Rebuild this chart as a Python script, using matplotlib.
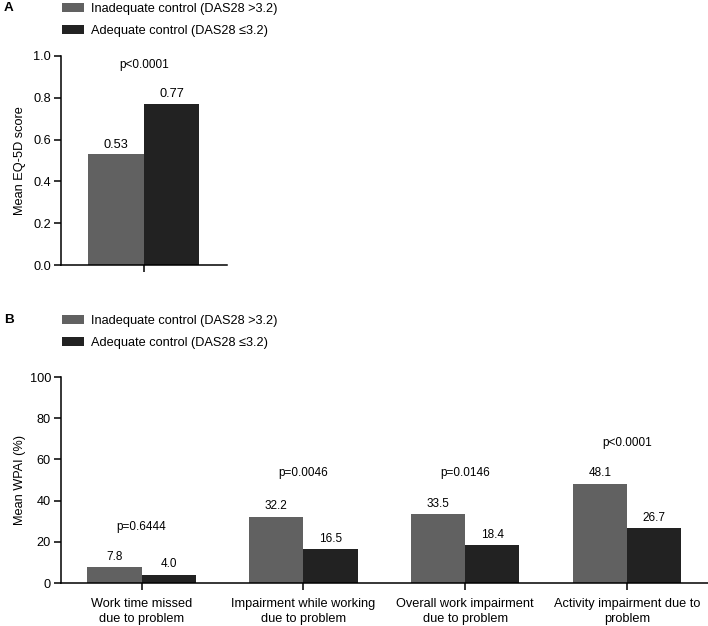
import numpy as np
import matplotlib.pyplot as plt

plt.rcParams['font.family'] = ['Liberation Sans', 'DejaVu Sans']

W, H = 708, 626

series_names = ['Inadequate control (DAS28 >3.2)', 'Adequate control (DAS28 \u22643.2)']
colors = ['#616161', '#222222']

# panel A
eq5d = [0.53, 0.77]
eq5d_p = 'p<0.0001'

# panel B
categories = ['Work time missed\ndue to problem', 'Impairment while working\ndue to problem',
              'Overall work impairment\ndue to problem', 'Activity impairment due to\nproblem']
inadequate = [7.8, 32.2, 33.5, 48.1]
adequate = [4.0, 16.5, 18.4, 26.7]
p_values = ['p=0.6444', 'p=0.0046', 'p=0.0146', 'p<0.0001']
p_heights = [27, 53.5, 53.5, 68]

FS = 9.2
VS = 8.5


def px_box(x0, y0, x1, y1):
    # pixel box (top-left origin) to figure fraction
    return [x0 / W, 1 - y1 / H, (x1 - x0) / W, (y1 - y0) / H]


def style_axes(ax):
    for s in ['top', 'right']:
        ax.spines[s].set_visible(False)
    for s in ['left', 'bottom']:
        ax.spines[s].set_linewidth(1.1)
    ax.tick_params(axis='y', direction='out', length=5, width=1.1, labelsize=FS, pad=2)
    ax.tick_params(axis='x', direction='out', length=5, width=1.1, labelsize=FS, pad=6)


def add_legend(ax, top_px):
    ax.legend(loc='upper left', bbox_to_anchor=(62 / W, 1 - top_px / H), bbox_transform=fig.transFigure,
              frameon=False, fontsize=FS, borderpad=0, borderaxespad=0, handlelength=1.7,
              handleheight=0.75, handletextpad=0.55, labelspacing=0.78)


fig = plt.figure(figsize=(W / 100, H / 100), dpi=100)

# ---- Panel A ----
axA = fig.add_axes(px_box(60.7, 56, 227, 265))
style_axes(axA)
for i, v in enumerate(eq5d):
    axA.bar(-0.25 + 0.5 * i, v, width=0.5, color=colors[i], label=series_names[i])
    axA.annotate(f'{v:.2f}', (-0.25 + 0.5 * i, v), xytext=(0, 7), textcoords='offset points',
                 ha='center', va='center', fontsize=VS + 0.7)
axA.text(0, 0.957, eq5d_p, ha='center', va='center', fontsize=VS)
axA.set_xlim(-0.75, 0.75)
axA.set_ylim(0, 1.0)
axA.set_yticks(np.arange(0, 1.01, 0.2))
axA.set_yticklabels([f'{t:.1f}' for t in np.arange(0, 1.01, 0.2)])
axA.set_xticks([0])
axA.set_xticklabels([''])
axA.set_ylabel('Mean EQ-5D score', fontsize=FS)
axA.yaxis.set_label_coords(-0.21, 0.5)
add_legend(axA, 3)
fig.text(4 / W, 1 - 8 / H, 'A', fontsize=FS + 0.5, fontweight='bold', va='center', ha='left')

# ---- Panel B ----
axB = fig.add_axes(px_box(60.7, 377, 708, 583))
style_axes(axB)
x = np.arange(len(categories))
bw = 0.335
for i, vals in enumerate([inadequate, adequate]):
    off = (-0.5 + i) * bw
    axB.bar(x + off, vals, width=bw, color=colors[i], label=series_names[i])
    for xi, v in zip(x, vals):
        axB.annotate(f'{v:.1f}', (xi + off, v), xytext=(0, 7.5), textcoords='offset points',
                     ha='center', va='center', fontsize=VS)
for xi, p, h in zip(x, p_values, p_heights):
    axB.text(xi, h, p, ha='center', va='center', fontsize=VS)
axB.set_xlim(-0.5, 3.5)
axB.set_ylim(0, 100)
axB.set_yticks(np.arange(0, 101, 20))
axB.set_xticks(x)
axB.set_xticklabels(categories, fontsize=FS, linespacing=1.35)
axB.set_ylabel('Mean WPAI (%)', fontsize=FS)
axB.yaxis.set_label_coords(-0.054, 0.5)
add_legend(axB, 315)
fig.text(4 / W, 1 - 320 / H, 'B', fontsize=FS + 0.5, fontweight='bold', va='center', ha='left')

fig.savefig('out.png', dpi=100)
